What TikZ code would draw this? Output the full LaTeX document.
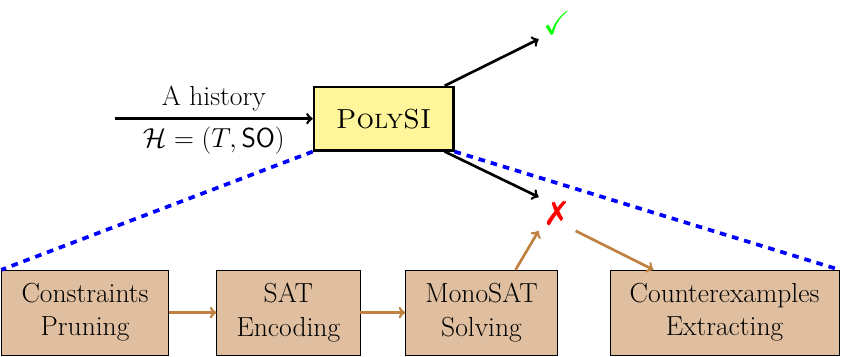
\documentclass[tikz,border=0pt]{standalone}
\usepackage{amsmath,amssymb}
\usepackage{fontspec}
\usepackage{tikz}
\newfontfamily\markfont{DejaVu Sans}
\definecolor{polyfill}{RGB}{255,245,155}

\begin{document}
\begin{tikzpicture}[every node/.style={font=\huge},
	polybox/.style={draw, line width=2pt, fill=polyfill, minimum width=3.68cm, minimum height=1.67cm},
	stagebox/.style={draw, fill=brown!50, align=center, inner xsep=15pt, minimum height=2.25cm},
	flow/.style={->, brown, line width=2pt},
	verdict/.style={->, line width=2pt},
	zoomline/.style={blue, line width=2.8pt, dash pattern=on 5pt off 4.5pt}]
	\useasboundingbox (0,0) rectangle (22.33,9.42);
	\node[polybox] (polysi) at (10.15,6.28) {\textsc{PolySI}};
	\coordinate (hist) at (3.04,6.28);
	\draw[verdict] (hist) -- (polysi.west)
		node[midway, above, inner sep=5pt] {A history}
		node[midway, below, inner sep=5pt] {$\mathcal{H}=(T,\textsf{SO})$};
	\node[green, font=\Huge] (ok) at (14.74,8.81) {$\checkmark$};
	\node[red, font=\Huge\markfont] (bad) at (14.74,3.76) {✗};
	\draw[verdict] ([xshift=-0.26cm]polysi.north east) -- (ok.south west);
	\draw[verdict] ([xshift=-0.26cm]polysi.south east) -- (bad.north west);
	% pipeline inside PolySI
	\node[stagebox] (prune) at (2.25,1.15) {Constraints\\Pruning};
	\node[stagebox] (encode) at (7.63,1.15) {SAT\\Encoding};
	\node[stagebox] (solve) at (12.74,1.15) {MonoSAT\\Solving};
	\node[stagebox] (extract) at (19.17,1.15) {Counterexamples\\Extracting};
	\draw[flow] (prune) -- (encode);
	\draw[flow] (encode) -- (solve);
	\draw[flow] ([xshift=0.9cm]solve.north) -- (bad.south west);
	\draw[flow] (bad.south east) -- ([xshift=1.16cm]extract.north west);
	\draw[zoomline] (polysi.south west) -- (prune.north west);
	\draw[zoomline] (polysi.south east) -- (extract.north east);
\end{tikzpicture}
\end{document}
